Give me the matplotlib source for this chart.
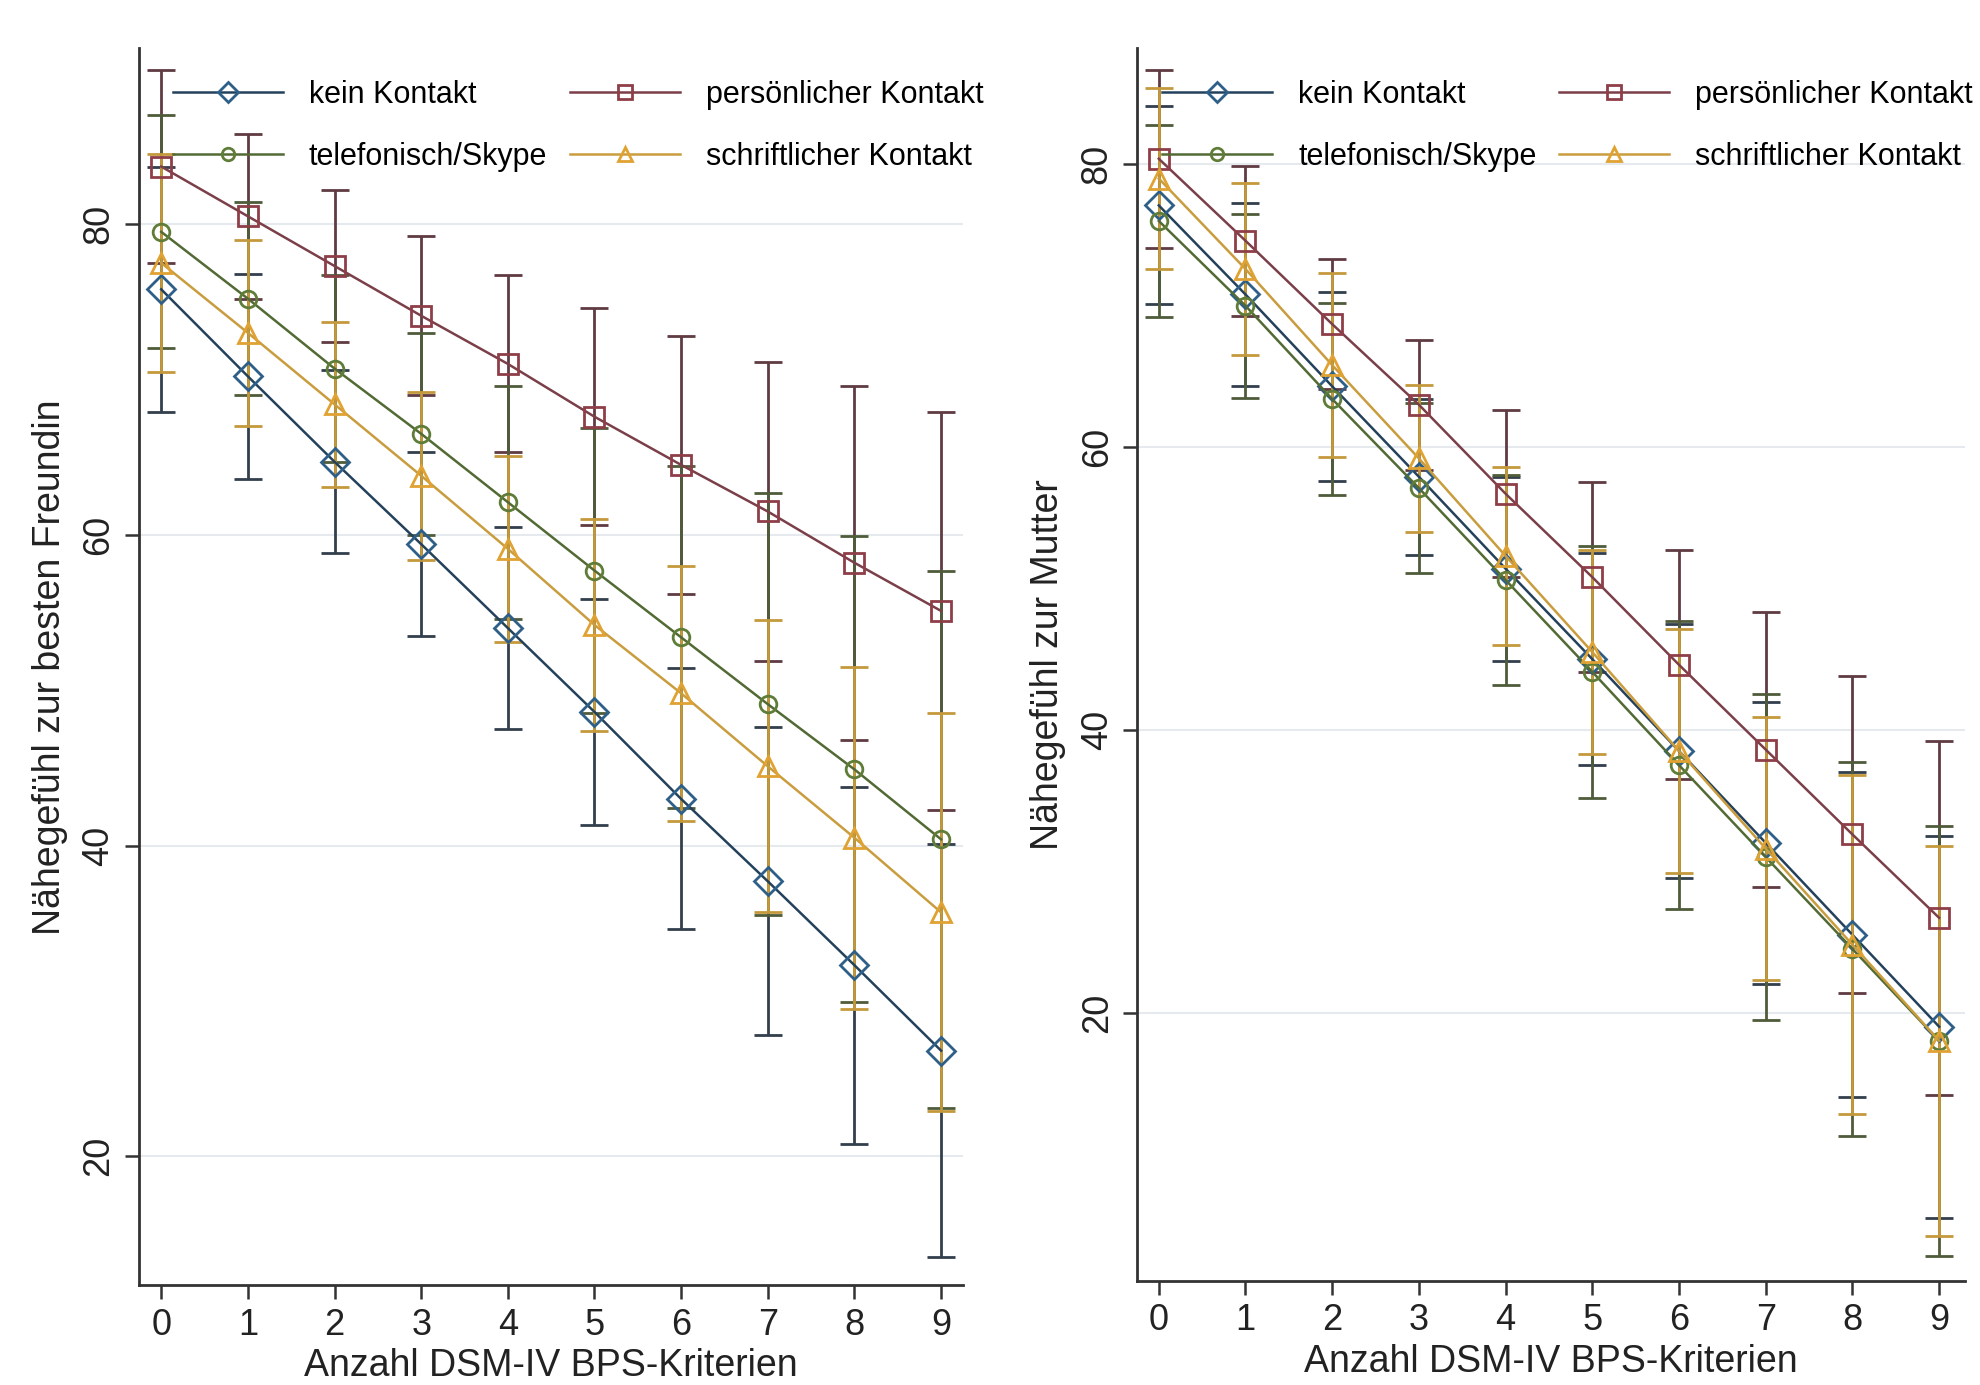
import matplotlib
matplotlib.use("Agg")
import matplotlib.pyplot as plt
import numpy as np

plt.rcParams['font.family'] = ['Liberation Sans', 'DejaVu Sans']

# ----- data -----
kriterien = np.arange(10)

# left panel: closeness to best friend
freundin_kein = [75.8, 70.2, 64.7, 59.4, 54.0, 48.6, 43.0, 37.7, 32.3, 26.8]
freundin_kein_ci = [7.9, 6.6, 5.9, 5.9, 6.5, 7.3, 8.4, 9.9, 11.5, 13.3]
freundin_pers = [83.7, 80.5, 77.3, 74.1, 71.0, 67.6, 64.5, 61.5, 58.2, 55.1]
freundin_pers_ci = [6.2, 5.3, 4.9, 5.1, 5.7, 7.0, 8.3, 9.6, 11.4, 12.8]
freundin_tel = [79.5, 75.2, 70.7, 66.5, 62.1, 57.7, 53.4, 49.1, 44.9, 40.4]
freundin_tel_ci = [7.5, 6.2, 6.0, 6.5, 7.5, 9.2, 11.0, 13.6, 15.0, 17.3]
freundin_schr = [77.5, 73.0, 68.4, 63.8, 59.1, 54.2, 49.8, 45.1, 40.5, 35.7]
freundin_schr_ci = [7.0, 6.0, 5.3, 5.4, 6.0, 6.8, 8.2, 9.4, 11.0, 12.8]

# right panel: closeness to mother
mutter_kein = [77.1, 70.8, 64.3, 57.9, 51.4, 45.0, 38.5, 32.0, 25.5, 19.0]
mutter_kein_ci = [7.0, 6.5, 6.7, 5.5, 6.5, 7.5, 9.0, 10.0, 11.5, 13.5]
mutter_pers = [80.4, 74.6, 68.7, 63.0, 56.7, 50.8, 44.6, 38.6, 32.6, 26.7]
mutter_pers_ci = [6.3, 5.3, 4.6, 4.6, 5.9, 6.7, 8.1, 9.7, 11.2, 12.5]
mutter_tel = [76.0, 70.0, 63.4, 57.1, 50.6, 44.1, 37.5, 31.0, 24.5, 18.0]
mutter_tel_ci = [6.8, 6.5, 6.8, 6.0, 7.4, 8.9, 10.2, 11.5, 13.2, 15.2]
mutter_schr = [79.0, 72.6, 65.8, 59.2, 52.3, 45.5, 38.5, 31.6, 24.8, 18.0]
mutter_schr_ci = [6.4, 6.1, 6.5, 5.2, 6.3, 7.2, 8.6, 9.3, 12.0, 13.8]

labels = ['kein Kontakt', 'persönlicher Kontakt', 'telefonisch/Skype', 'schriftlicher Kontakt']
markers = ['D', 's', 'o', '^']
msizes = [14, 14, 12, 14]
line_cols = ['#24415c', '#7a3f48', '#526a34', '#c99d3e']
mark_cols = ['#2e5f88', '#8e3e48', '#5f7d38', '#e0a232']
bar_cols = ['#323f4c', '#5f3b42', '#4f5c3a', '#c4993c']

# ----- plot -----
fig = plt.figure(figsize=(19.81, 13.85), dpi=100)


def panel(ax, series, cis, ylabel, ylim, xlim, legx):
    handles = []
    for y, ci, bc in zip(series, cis, bar_cols):
        ax.errorbar(kriterien, y, yerr=ci, fmt='none', ecolor=bc,
                    elinewidth=2.0, capsize=10, capthick=2.0, zorder=2)
    for y, m, ms, lc, mc, lab in zip(series, markers, msizes, line_cols, mark_cols, labels):
        h, = ax.plot(kriterien, y, color=lc, lw=1.8, marker=m, ms=ms,
                     mfc='none', mec=mc, mew=2.0, label=lab, zorder=3)
        handles.append(h)
    ax.set_xlim(*xlim)
    ax.set_ylim(*ylim)
    ax.set_xticks(kriterien)
    ax.set_yticks([20, 40, 60, 80])
    ax.grid(True, axis='y', color='#e6eaee', lw=1.5, zorder=0)
    ax.set_axisbelow(True)
    for s in ['top', 'right']:
        ax.spines[s].set_visible(False)
    for s in ['left', 'bottom']:
        ax.spines[s].set_color('#333333')
        ax.spines[s].set_linewidth(2.0)
    ax.tick_params(axis='both', length=10, width=1.8, color='#333333',
                   labelsize=26, labelcolor='#222222', pad=6)
    ax.tick_params(axis='y', labelrotation=90)
    for t in ax.get_yticklabels():
        t.set_va('center')
    ax.set_xlabel('Anzahl DSM-IV BPS-Kriterien', fontsize=27, color='#222222', labelpad=4)
    ax.set_ylabel(ylabel, fontsize=27, color='#222222', labelpad=10)
    order = [handles[0], handles[2], handles[1], handles[3]]
    ax.legend(handles=order, labels=[h.get_label() for h in order], ncol=2,
              loc='upper left', bbox_to_anchor=(legx, 0.997), frameon=False,
              fontsize=22, handlelength=3.6, handletextpad=0.85,
              columnspacing=0.75, labelspacing=1.05, markerscale=0.75)


ax1 = fig.add_axes([0.070, 0.072, 0.416, 0.893])
panel(ax1, [freundin_kein, freundin_pers, freundin_tel, freundin_schr],
      [freundin_kein_ci, freundin_pers_ci, freundin_tel_ci, freundin_schr_ci],
      'Nähegefühl zur besten Freundin', (11.7, 91.3), (-0.26, 9.25), 0.008)

ax2 = fig.add_axes([0.574, 0.075, 0.418, 0.890])
panel(ax2, [mutter_kein, mutter_pers, mutter_tel, mutter_schr],
      [mutter_kein_ci, mutter_pers_ci, mutter_tel_ci, mutter_schr_ci],
      'Nähegefühl zur Mutter', (1.0, 88.2), (-0.25, 9.3), -0.003)

fig.savefig('out.png', dpi=100, facecolor='white')
